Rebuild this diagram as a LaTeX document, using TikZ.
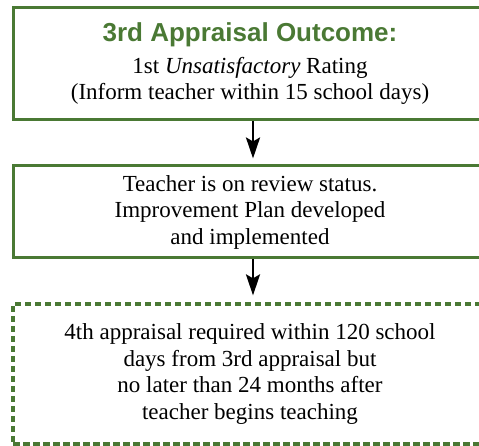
\documentclass[tikz,border=0pt]{standalone}
\usepackage{fontspec}
\setmainfont{Liberation Serif}
\newfontfamily\titlefont{Liberation Sans}
\usetikzlibrary{arrows.meta}
\definecolor{boxgreen}{RGB}{74,121,52}

\begin{document}
\begin{tikzpicture}[x=1pt,y=1pt,
    box/.style={draw=boxgreen,line width=3pt,minimum width=474pt,align=center,
      font=\fontsize{23}{26.5}\selectfont},
    dashbox/.style={box,line width=3.2pt,dash pattern=on 6.5pt off 3.5pt},
    arr/.style={-{Stealth[length=21pt,width=14pt,inset=4pt]},line width=2.8pt,black}]
    \useasboundingbox (0,0) rectangle (479,446);
    \clip (0,0) rectangle (479,446);
    % Boxes
    \node[box,minimum height=112pt] (outcome) at (250,382)
      {{\titlefont\bfseries\fontsize{26}{28}\selectfont\color{boxgreen}3rd Appraisal Outcome:}\\[5pt]
       1st \textit{Unsatisfactory} Rating\\
       (Inform teacher within 15 school days)};
    \node[box,minimum height=92pt] (review) at (250,234)
      {Teacher is on review status.\\
       Improvement Plan developed\\
       and implemented};
    \node[dashbox,minimum height=140pt] (fourth) at (250,72)
      {4th appraisal required within 120 school\\
       days from 3rd appraisal but\\
       no later than 24 months after\\
       teacher begins teaching};
    % Arrows
    \draw[arr,shorten >=6pt] ([xshift=3pt]outcome.south) -- ([xshift=3pt]review.north);
    \draw[arr,shorten >=7pt] ([xshift=3pt]review.south) -- ([xshift=3pt]fourth.north);
\end{tikzpicture}
\end{document}
